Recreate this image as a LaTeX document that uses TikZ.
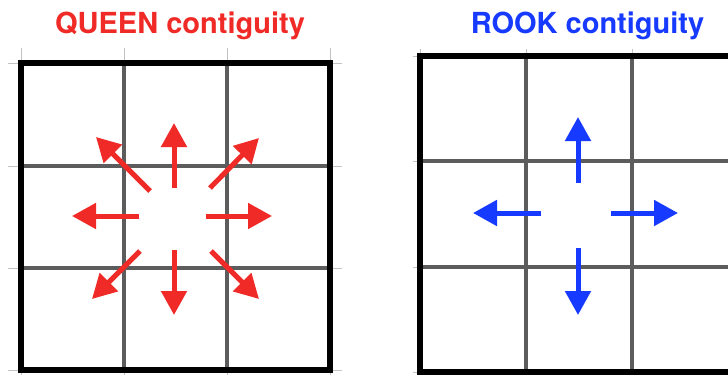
\documentclass[tikz,border=0pt]{standalone}
\usepackage{fontspec}
\setmainfont{TeX Gyre Heros}
\usetikzlibrary{arrows.meta}
\definecolor{QueenRed}{RGB}{240,42,38}
\definecolor{RookBlue}{RGB}{22,58,255}
\definecolor{CellGray}{RGB}{92,92,92}
\definecolor{TickGray}{RGB}{195,195,195}
\tikzset{
	heading/.style={font=\fontsize{29}{34}\selectfont\bfseries,anchor=base},
	tickline/.style={draw=TickGray,line width=0.8pt},
	gridline/.style={draw=CellGray,line width=4pt},
	outerline/.style={draw=black,line width=6pt},
	qarrow/.style={draw=QueenRed,line width=5pt,-{Triangle[length=24pt,width=25pt]}},
	rarrow/.style={draw=RookBlue,line width=5pt,-{Triangle[length=24pt,width=25pt]}},
}

\begin{document}
\begin{tikzpicture}[x=1pt,y=-1pt]
			\useasboundingbox (0,0) rectangle (728,375);
			\clip (0,0) rectangle (728,375);
			\fill[white] (0,0) rectangle (728,375);
			% queen grid
			\begin{scope}
				\draw[tickline] (8,63)--(342,63);
				\draw[tickline] (8,166)--(342,166);
				\draw[tickline] (8,268)--(342,268);
				\draw[tickline] (8,370)--(342,370);
				\draw[tickline] (21,48)--(21,375);
				\draw[tickline] (124,48)--(124,375);
				\draw[tickline] (227,48)--(227,375);
				\draw[tickline] (330,48)--(330,375);
				\draw[gridline] (124,63)--(124,370);
				\draw[gridline] (227,63)--(227,370);
				\draw[gridline] (21,166)--(330,166);
				\draw[gridline] (21,268)--(330,268);
				\draw[outerline] (21,63) rectangle (330,370);
				\node[heading,text=QueenRed] (qtitle) at (180,33) {QUEEN contiguity};
				\coordinate (qn1) at (174,188);
				\coordinate (qn2) at (174,123);
				\coordinate (qs1) at (174,250);
				\coordinate (qs2) at (174,315);
				\coordinate (qw1) at (139,216);
				\coordinate (qw2) at (72,216);
				\coordinate (qe1) at (206,216);
				\coordinate (qe2) at (272,216);
				\coordinate (qnw1) at (150,191);
				\coordinate (qnw2) at (96,137);
				\coordinate (qne1) at (210,188);
				\coordinate (qne2) at (259,138);
				\coordinate (qsw1) at (140,251);
				\coordinate (qsw2) at (92,299);
				\coordinate (qse1) at (211,251);
				\coordinate (qse2) at (259,299);
				\draw[qarrow] (qn1)--(qn2);
				\draw[qarrow] (qs1)--(qs2);
				\draw[qarrow] (qw1)--(qw2);
				\draw[qarrow] (qe1)--(qe2);
				\draw[qarrow] (qnw1)--(qnw2);
				\draw[qarrow] (qne1)--(qne2);
				\draw[qarrow] (qsw1)--(qsw2);
				\draw[qarrow] (qse1)--(qse2);
			\end{scope}
			% rook grid
			\begin{scope}
				\draw[tickline] (413,56)--(740,56);
				\draw[tickline] (413,161)--(740,161);
				\draw[tickline] (413,267)--(740,267);
				\draw[tickline] (413,372)--(740,372);
				\draw[tickline] (420,49)--(420,375);
				\draw[tickline] (526,49)--(526,375);
				\draw[tickline] (632,49)--(632,375);
				\draw[gridline] (526,56)--(526,372);
				\draw[gridline] (632,56)--(632,372);
				\draw[gridline] (420,161)--(738,161);
				\draw[gridline] (420,267)--(738,267);
				\draw[outerline] (420,56) rectangle (738,372);
				\node[heading,text=RookBlue] (rtitle) at (587.5,33) {ROOK contiguity};
				\coordinate (rn1) at (578,183);
				\coordinate (rn2) at (578,117);
				\coordinate (rs1) at (578,248);
				\coordinate (rs2) at (578,315);
				\coordinate (rw1) at (541,213);
				\coordinate (rw2) at (473,213);
				\coordinate (re1) at (611,213);
				\coordinate (re2) at (678,213);
				\draw[rarrow] (rn1)--(rn2);
				\draw[rarrow] (rs1)--(rs2);
				\draw[rarrow] (rw1)--(rw2);
				\draw[rarrow] (re1)--(re2);
			\end{scope}
		\end{tikzpicture}
\end{document}
